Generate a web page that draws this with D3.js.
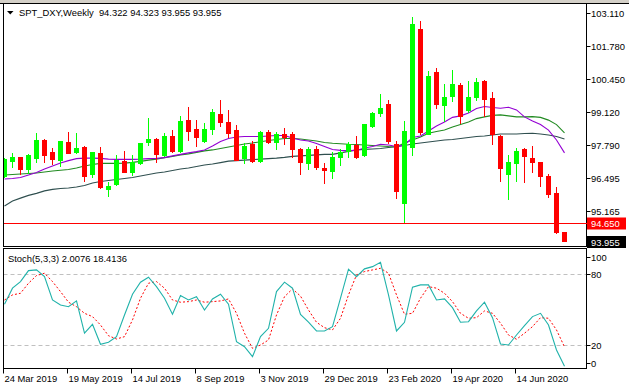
<!DOCTYPE html>
<html><head><meta charset="utf-8">
<script src="https://cdnjs.cloudflare.com/ajax/libs/d3/7.8.5/d3.min.js"></script>
<style>html,body{margin:0;padding:0;background:#fff;overflow:hidden}svg text{font-family:"Liberation Sans",Arial,sans-serif;font-size:9.4px}</style>
</head><body><svg id="c" width="629" height="386"></svg>
<script>
// ---------- DATA (weekly SPT_DXY) ----------
const startWeek = "2019-03-24";
const opens  = [96.57,97.18,97.32,96.84,97.30,98.01,97.54,97.20,97.93,97.52,97.72,96.64,97.50,96.05,96.24,97.18,96.73,97.09,97.93,98.05,97.42,98.17,97.58,98.81,98.45,97.98,98.44,99.05,98.73,98.41,97.30,97.85,97.16,98.34,97.93,98.24,98.25,97.65,97.07,97.63,96.88,96.77,97.32,97.58,97.80,97.41,98.57,99.09,99.46,97.85,95.46,97.71,102.48,98.25,100.75,99.42,99.78,100.22,99.22,99.73,100.38,99.70,98.17,96.65,97.10,97.65,97.28,97.12,96.56,95.88,94.322];
const highs  = [97.28,97.49,97.34,97.45,98.30,98.05,97.70,97.97,98.33,98.28,97.77,97.51,97.73,96.33,97.41,97.57,97.41,97.89,98.91,98.10,98.29,98.41,98.97,99.33,98.81,98.71,99.26,99.62,99.22,98.61,97.88,97.97,98.38,98.41,98.32,98.48,98.34,97.67,97.71,97.75,97.07,97.54,97.63,97.94,98.17,98.65,99.15,99.86,99.62,97.98,98.77,102.97,102.80,100.79,100.90,100.26,100.83,100.30,100.38,100.49,100.42,99.94,98.21,97.41,97.69,97.69,97.77,97.12,96.64,96.12,94.323];
const lows   = [96.50,96.91,96.65,96.67,97.11,97.11,97.04,96.97,97.50,97.47,96.37,96.51,96.06,95.77,96.20,96.73,96.60,97.04,97.82,97.13,97.36,97.54,97.54,98.01,97.78,97.94,98.24,98.58,98.13,97.20,97.10,97.11,97.11,97.88,97.63,97.85,97.34,96.64,96.84,96.84,96.29,96.49,97.00,97.34,97.27,97.38,98.53,98.99,97.88,95.66,94.65,97.40,98.25,98.25,99.31,98.77,99.58,98.70,99.15,99.62,98.98,97.86,96.37,95.65,96.37,96.33,96.73,96.17,95.73,94.28,93.955];
const closes = [97.24,97.33,96.84,97.41,98.01,97.41,97.24,97.97,97.50,97.68,96.56,97.51,96.13,96.16,97.22,96.73,97.11,97.89,98.05,97.45,98.17,97.58,98.77,98.38,98.14,98.45,99.14,98.75,98.28,97.20,97.78,97.16,98.34,97.93,98.26,98.15,97.63,97.14,97.63,96.91,96.80,97.31,97.54,97.84,97.34,98.65,99.11,99.30,97.98,95.97,98.37,102.68,98.34,100.59,99.46,99.74,100.26,98.98,99.73,100.36,99.67,98.26,96.89,97.12,97.57,97.38,97.13,96.57,95.85,94.32,93.955];
const maFast = [96.44,96.46,96.50,96.60,96.70,96.84,96.96,97.08,97.18,97.26,97.28,97.28,97.27,97.24,97.23,97.23,97.23,97.24,97.26,97.27,97.30,97.37,97.43,97.49,97.54,97.61,97.77,97.95,98.07,98.13,98.15,98.15,98.15,98.17,98.19,98.19,98.09,98.01,97.97,97.87,97.75,97.63,97.59,97.58,97.59,97.69,97.75,97.84,97.81,97.75,97.81,98.11,98.17,98.37,98.57,98.73,98.92,98.98,99.10,99.28,99.36,99.32,99.29,99.33,99.22,98.94,98.77,98.63,98.41,98.01,97.49];
const maMid  = [96.60,96.62,96.64,96.66,96.68,96.72,96.76,96.79,96.82,96.88,96.96,97.02,97.07,97.07,97.07,97.08,97.11,97.15,97.20,97.24,97.30,97.35,97.41,97.45,97.51,97.57,97.61,97.67,97.73,97.79,97.85,97.89,97.94,97.99,98.03,98.07,98.07,98.05,98.01,97.97,97.91,97.88,97.86,97.84,97.83,97.81,97.79,97.77,97.75,97.74,97.89,98.01,98.13,98.28,98.35,98.41,98.53,98.63,98.73,98.87,98.94,99.00,99.02,98.98,98.94,98.94,98.95,98.92,98.81,98.63,98.30];
const maSlow = [95.35,95.55,95.67,95.78,95.86,95.96,96.02,96.06,96.08,96.12,96.18,96.28,96.34,96.38,96.42,96.46,96.50,96.56,96.62,96.68,96.72,96.78,96.84,96.88,96.94,97.00,97.04,97.10,97.16,97.18,97.20,97.22,97.24,97.26,97.28,97.31,97.35,97.37,97.39,97.41,97.43,97.43,97.49,97.55,97.61,97.63,97.65,97.67,97.71,97.74,97.79,97.85,97.89,97.93,97.97,98.01,98.03,98.07,98.11,98.15,98.17,98.21,98.25,98.25,98.25,98.27,98.28,98.25,98.21,98.15,98.05];
const stochK = [54.6,68.2,73.8,83.1,83.7,78.0,58.2,54.0,52.5,57.4,30.0,37.6,20.6,22.3,27.1,45.5,63.1,73.3,77.5,69.5,59.7,46.1,61.9,58.2,61.0,49.7,59.1,63.1,54.6,22.8,18.6,10.1,27.1,34.2,65.3,73.3,68.2,46.0,39.5,32.0,31.9,35.6,59.7,84.3,78.0,84.6,86.5,90.2,62.5,31.9,39.3,69.0,71.0,71.0,58.2,59.1,51.7,39.3,39.8,48.9,56.3,43.2,20.9,20.0,28.5,36.4,44.1,46.9,37.0,15.8,2.0];
const stochD = [58.2,62.5,63.9,72.4,78.9,80.9,73.8,65.3,56.3,52.5,46.9,44.1,37.0,27.9,25.1,27.1,41.3,59.7,72.4,73.8,68.2,58.2,56.3,56.8,58.2,56.3,56.8,57.4,59.1,46.9,30.0,17.2,20.0,24.3,45.5,61.0,67.6,61.5,49.7,39.3,34.7,32.8,42.7,62.5,79.5,82.3,83.7,85.1,80.9,62.5,46.1,46.9,59.7,69.5,68.2,63.9,56.8,46.9,42.7,43.2,48.9,46.9,38.5,28.5,24.9,30.0,35.6,43.2,42.7,32.8,18.4];
const priceTicks = [103.110,101.780,100.450,99.120,97.790,96.495,95.165];
const stochLevels = [80, 20];
const stochTicks = [100, 80, 20, 0];
const supportLevel = 94.650;
const title = "SPT_DXY,Weekly  94.322 94.323 93.955 93.955";
const stochTitle = "Stoch(5,3,3) 2.0076 18.4136";
const dateLabelEvery = 8;

// ---------- LAYOUT ----------
const W = 629, H = 386;
const L = 3.5, R = 586.5, mainTop = 3.5, mainBot = 246.5, stTop = 248.5, stBot = 368.5;
const svg = d3.select("#c");
const parse = d3.timeParse("%Y-%m-%d");
const dates = opens.map((d, i) => d3.timeWeek.offset(parse(startWeek), i));
const keyFmt = d3.timeFormat("%Y-%m-%d"), lblFmt = d3.timeFormat("%-d %b %Y");
const cats = dates.map(keyFmt);

const x = d3.scalePoint().domain(cats).range([4.5, 564.5]);
const y = d3.scaleLinear().domain([93.702, 103.484]).range([247, 4]);
const ys = d3.scaleLinear().domain([0, 100]).range([368.6, 250.7]);

svg.append("rect").attr("width", W).attr("height", H).attr("fill", "#fff");
svg.append("rect").attr("width", W).attr("height", 3).attr("fill", "#d4d0c8");
svg.append("line").attr("x1", 0).attr("x2", W).attr("y1", mainTop).attr("y2", mainTop).attr("stroke", "#000");

const defs = svg.append("defs");
defs.append("clipPath").attr("id", "cm").append("rect").attr("x", L+0.5).attr("y", mainTop+0.5).attr("width", R-L-1).attr("height", mainBot-mainTop-1);
defs.append("clipPath").attr("id", "cs").append("rect").attr("x", L+0.5).attr("y", stTop+0.5).attr("width", R-L-1).attr("height", stBot-stTop-1);

const gm = svg.append("g").attr("clip-path", "url(#cm)");

// moving averages
const line = arr => d3.line().x((d, i) => x(cats[i])).y(d => y(d))(arr);
gm.append("path").attr("d", line(maSlow)).attr("fill", "none").attr("stroke", "#2f4f4f").attr("stroke-width", 1.1);
gm.append("path").attr("d", line(maMid)).attr("fill", "none").attr("stroke", "#228b22").attr("stroke-width", 1.1);
gm.append("path").attr("d", line(maFast)).attr("fill", "none").attr("stroke", "#9400d3").attr("stroke-width", 1.1);

// candles
const candles = gm.selectAll("g.c").data(opens.map((o, i) => ({o, h: highs[i], l: lows[i], c: closes[i], k: cats[i]}))).enter().append("g");
candles.each(function(d) {
  const g = d3.select(this);
  const col = d.c >= d.o ? "#00ff00" : "#ff0000";
  const cx = x(d.k);
  g.append("rect").attr("x", cx - 0.5).attr("width", 1)
    .attr("y", Math.round(y(d.h))).attr("height", Math.max(1, Math.round(y(d.l)) - Math.round(y(d.h)) + 1)).attr("fill", col);
  const top = Math.round(y(Math.max(d.o, d.c))), bot = Math.round(y(Math.min(d.o, d.c)));
  g.append("rect").attr("x", cx - 2.5).attr("width", 5).attr("y", top).attr("height", Math.max(1, bot - top + 1)).attr("fill", col);
});

// stochastic panel
const gs = svg.append("g").attr("clip-path", "url(#cs)");
gs.selectAll("line.lv").data(stochLevels).enter().append("line")
  .attr("x1", L).attr("x2", R).attr("y1", d => Math.round(ys(d))+0.5).attr("y2", d => Math.round(ys(d))+0.5)
  .attr("stroke", "#c0c0c0").attr("stroke-dasharray", "4,3");
const sline = arr => d3.line().x((d, i) => x(cats[i])).y(d => ys(d))(arr);
gs.append("path").attr("d", sline(stochD)).attr("fill", "none").attr("stroke", "#ff0000").attr("stroke-dasharray", "2,2");
gs.append("path").attr("d", sline(stochK)).attr("fill", "none").attr("stroke", "#20b2aa").attr("stroke-width", 1.1);

// frames
const frame = (t, b) => svg.append("rect").attr("x", L).attr("y", t).attr("width", R - L).attr("height", b - t).attr("fill", "none").attr("stroke", "#000");
frame(mainTop, mainBot);
frame(stTop, stBot);

// support line (on top, unclipped, full panel width)
{
  const yy = Math.round(y(supportLevel)) + 0.5;
  svg.append("line").attr("x1", L + 0.5).attr("x2", R).attr("y1", yy).attr("y2", yy)
    .attr("stroke", "rgb(255,0,0)").attr("stroke-width", 1.2).attr("shape-rendering", "crispEdges");
}

// right price axis
const ra = svg.append("g");
priceTicks.forEach(v => {
  const yy = Math.round(y(v)) + 0.5;
  ra.append("line").attr("x1", R).attr("x2", R + 4).attr("y1", yy).attr("y2", yy).attr("stroke", "#000");
  ra.append("text").attr("x", 591).attr("y", yy + 3.5).text(v.toFixed(3));
});
// support tag
{
  const yy = Math.round(y(supportLevel)) + 0.5;
  ra.append("rect").attr("x", R + 0.5).attr("y", yy - 6).attr("width", 39).attr("height", 12).attr("fill", "#ff0000");
  ra.append("text").attr("x", 591).attr("y", yy + 3.5).attr("fill", "#fff").text(supportLevel.toFixed(3));
}
// current price tag
{
  const last = closes[closes.length - 1];
  const yy = Math.round(y(last)) + 0.5;
  ra.append("rect").attr("x", R + 0.5).attr("y", yy - 5.5).attr("width", 39).attr("height", 12).attr("fill", "#000");
  ra.append("text").attr("x", 591).attr("y", yy + 4).attr("fill", "#fff").text(last.toFixed(3));
}
// stoch axis
stochTicks.forEach(v => {
  const yy = Math.round(Math.max(256.5, Math.min(362.5, ys(v)))) + 0.5;
  ra.append("line").attr("x1", R).attr("x2", R + 4).attr("y1", yy).attr("y2", yy).attr("stroke", "#000");
  ra.append("text").attr("x", 591).attr("y", yy + 3.5).text(v);
});

// date axis
const da = svg.append("g");
cats.forEach((k, i) => {
  if (i % dateLabelEvery) return;
  const xx = Math.floor(x(k)) - 0.5;
  da.append("line").attr("x1", xx).attr("x2", xx).attr("y1", stBot).attr("y2", stBot + 5).attr("stroke", "#000");
  da.append("text").attr("x", xx + 1).attr("y", 382).text(lblFmt(dates[i]));
});

// titles
svg.append("path").attr("d", "M7,11 L13.5,11 L10.25,14.5 Z").attr("fill", "#000");
svg.append("text").attr("x", 19).attr("y", 16).attr("xml:space", "preserve").style("white-space", "pre").text(title);
svg.append("text").attr("x", 8).attr("y", 262).text(stochTitle);
</script></body></html>
